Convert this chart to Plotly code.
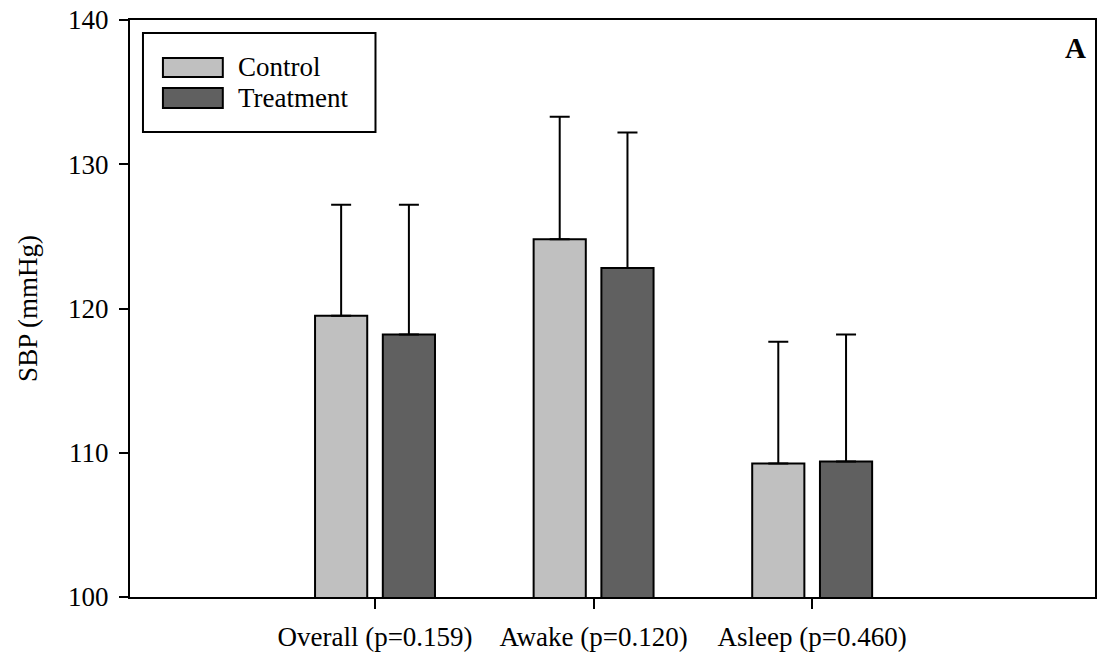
import plotly.graph_objects as go

# ---- data ----
categories = ["Overall (p=0.159)", "Awake (p=0.120)", "Asleep (p=0.460)"]
series_names = ["Control", "Treatment"]
control_mean = [119.5, 124.8, 109.25]
control_sd = [7.7, 8.5, 8.45]
treatment_mean = [118.2, 122.8, 109.4]
treatment_sd = [9.0, 9.4, 8.8]
y_ticks = [100, 110, 120, 130, 140]
panel_label = "A"
y_title = "SBP (mmHg)"

# ---- style / layout ----
W, H = 1099, 658
L, R, T, B = 130, 2, 20, 61
FONT = "Liberation Serif, Times New Roman, serif"
colors = ["#c0c0c0", "#606060"]


def px(x):
    return (x - L) / (W - L - R)


def py(y):
    return (H - B - y) / (H - T - B)


fig = go.Figure()
for name, mean, sd, col in zip(series_names, [control_mean, treatment_mean],
                               [control_sd, treatment_sd], colors):
    fig.add_trace(go.Bar(
        x=categories, y=mean, name=name,
        marker=dict(color=col, line=dict(color="black", width=2)),
        error_y=dict(type="data", symmetric=False, array=sd,
                     arrayminus=[0] * len(sd), color="black",
                     thickness=2, width=10),
        showlegend=False,
    ))

# custom legend (box, swatches, labels)
shapes = [dict(type="rect", xref="paper", yref="paper",
               x0=px(143), x1=px(376), y0=py(132), y1=py(33),
               line=dict(color="black", width=2), fillcolor="white", layer="above")]
annotations = []
sw_y = [(58, 77), (88, 108)]
for (y0, y1), name, col in zip(sw_y, series_names, colors):
    shapes.append(dict(type="rect", xref="paper", yref="paper",
                       x0=px(163), x1=px(223), y0=py(y1), y1=py(y0),
                       line=dict(color="black", width=2), fillcolor=col,
                       layer="above"))
    annotations.append(dict(text=name, xref="paper", yref="paper",
                            x=px(236), y=py((y0 + y1) / 2), xanchor="left",
                            yanchor="middle", showarrow=False,
                            font=dict(family=FONT, size=27, color="black")))
annotations.append(dict(text="<b>%s</b>" % panel_label, xref="paper", yref="paper",
                        x=px(1077), y=py(48), xanchor="center", yanchor="middle",
                        showarrow=False,
                        font=dict(family=FONT, size=29, color="black")))

fig.update_layout(
    width=W, height=H,
    margin=dict(l=L, r=R, t=T, b=B, pad=0),
    paper_bgcolor="white", plot_bgcolor="white",
    font=dict(family=FONT, size=27, color="black"),
    barmode="group", bargap=0.38, bargroupgap=0.23,
    shapes=shapes, annotations=annotations,
)
fig.update_xaxes(
    type="category", range=[-1.121, 3.294],
    showline=True, linecolor="black", linewidth=2, mirror=True,
    ticks="outside", ticklen=10, tickwidth=2, tickcolor="black",
    showgrid=False, zeroline=False, ticklabelstandoff=5,
    tickfont=dict(family=FONT, size=27, color="black"),
)
fig.update_yaxes(
    range=[100, 140], tickvals=y_ticks,
    showline=True, linecolor="black", linewidth=2, mirror=True,
    ticks="outside", ticklen=9, tickwidth=2, tickcolor="black",
    showgrid=False, zeroline=False, ticklabelstandoff=5,
    tickfont=dict(family=FONT, size=27, color="black"),
    title=dict(text=y_title, standoff=23,
               font=dict(family=FONT, size=27, color="black")),
)

fig.write_html("out.html")
